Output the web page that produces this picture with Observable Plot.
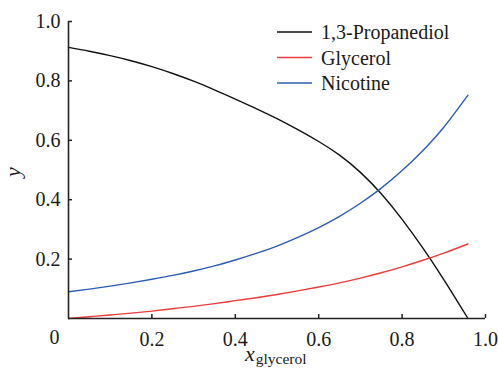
<!DOCTYPE html>
<html><head><meta charset="utf-8">
<script src="https://cdn.jsdelivr.net/npm/d3@7"></script>
<script src="https://cdn.jsdelivr.net/npm/@observablehq/plot@0.6"></script>
<style>
html,body{margin:0;padding:0;background:#fff;font-family:'Liberation Serif',serif}
svg text, svg tspan{font-family:'Liberation Serif',serif !important}
</style>
</head><body><div id="fig"></div>
<script>
const xGlycerol   = [0, 0.05, 0.1, 0.15, 0.2, 0.25, 0.3, 0.35, 0.4, 0.45, 0.5, 0.55, 0.6, 0.65, 0.7, 0.75, 0.8, 0.85, 0.9, 0.958];
const propanediol = [0.913, 0.900, 0.885, 0.868, 0.848, 0.825, 0.799, 0.770, 0.739, 0.707, 0.673, 0.636, 0.596, 0.550, 0.492, 0.420, 0.334, 0.237, 0.131, 0.0];
const glycerol    = [0.000, 0.006, 0.012, 0.018, 0.025, 0.033, 0.041, 0.050, 0.060, 0.070, 0.081, 0.093, 0.106, 0.120, 0.136, 0.154, 0.174, 0.196, 0.220, 0.251];
const nicotine    = [0.090, 0.099, 0.109, 0.120, 0.132, 0.145, 0.160, 0.177, 0.197, 0.219, 0.244, 0.273, 0.306, 0.344, 0.388, 0.439, 0.498, 0.566, 0.644, 0.752];
const seriesNames = ["1,3-Propanediol", "Glycerol", "Nicotine"];
const xTicks = [0.2, 0.4, 0.6, 0.8, 1.0];
const yTicks = [0.2, 0.4, 0.6, 0.8, 1.0];
const originLabel = ["0"];

const rows = [];
[propanediol, glycerol, nicotine].forEach((arr, i) =>
  arr.forEach((v, j) => rows.push({x: xGlycerol[j], y: v, s: seriesNames[i]})));

const W = 498, H = 370, mL = 68, mR = 13, mT = 21, mB = 52;
const pW = W - mL - mR, pH = H - mT - mB;
const font = "Liberation Serif";
const axisColor = "#222";

const plot = Plot.plot({
  width: W, height: H,
  marginLeft: mL, marginRight: mR, marginTop: mT, marginBottom: mB,
  style: {fontFamily: font, background: "#fff", color: "#1a1a1a"},
  x: {domain: [0, 1]},
  y: {domain: [0, 1]},
  color: {domain: seriesNames, range: ["#111111", "#ec3b3b", "#2c5cb3"]},
  marks: [
    Plot.axisX(xTicks, {tickSize: 0, tickPadding: 13, tickFormat: d => d.toFixed(1), label: null, fontSize: 20, fontFamily: font}),
    Plot.axisY(yTicks, {tickSize: 0, tickPadding: 8, tickFormat: d => d.toFixed(1), label: null, fontSize: 20, fontFamily: font}),
    Plot.tickX(xTicks, {x: d => d, insetTop: pH - 4, stroke: axisColor, strokeWidth: 1.5}),
    Plot.tickY(yTicks, {y: d => d, insetRight: pW - 4, stroke: axisColor, strokeWidth: 1.5}),
    Plot.line(rows, {x: "x", y: "y", stroke: "s", curve: "natural", strokeWidth: 1.4}),
    Plot.ruleX([0], {stroke: axisColor, strokeWidth: 1.6}),
    Plot.ruleY([0], {stroke: axisColor, strokeWidth: 1.6}),
    Plot.text(originLabel, {x: 0, y: 0, text: d => d, dx: -14, dy: 19, fontSize: 20, fontFamily: font})
  ]
});

document.getElementById("fig").appendChild(plot);

const svg = d3.select(plot);
const color = plot.scale("color");
// axis titles
svg.append("text")
  .attr("transform", "translate(20,172) rotate(-90)")
  .attr("text-anchor", "middle")
  .attr("font-family", font).attr("font-size", 22).attr("font-style", "italic")
  .attr("fill", "#1a1a1a")
  .text("y");
const xt = svg.append("text")
  .attr("x", 245).attr("y", 361)
  .attr("text-anchor", "start")
  .attr("font-family", font).attr("fill", "#1a1a1a");
xt.append("tspan").attr("font-size", 22).attr("font-style", "italic").text("x");
xt.append("tspan").attr("font-size", 15.5).attr("dy", 3).attr("dx", 1).text("glycerol");

// legend
const lg = svg.append("g").attr("text-anchor", "start");
seriesNames.forEach((name, i) => {
  const cy = 32 + i * 25.5;
  lg.append("line").attr("x1", 277).attr("x2", 312).attr("y1", cy).attr("y2", cy)
    .attr("stroke", color.apply(name)).attr("stroke-width", 1.4);
  lg.append("text").attr("x", 321).attr("y", cy + 7)
    .attr("font-family", font).attr("font-size", 20).attr("fill", "#1a1a1a")
    .text(name);
});
</script>
</body></html>
